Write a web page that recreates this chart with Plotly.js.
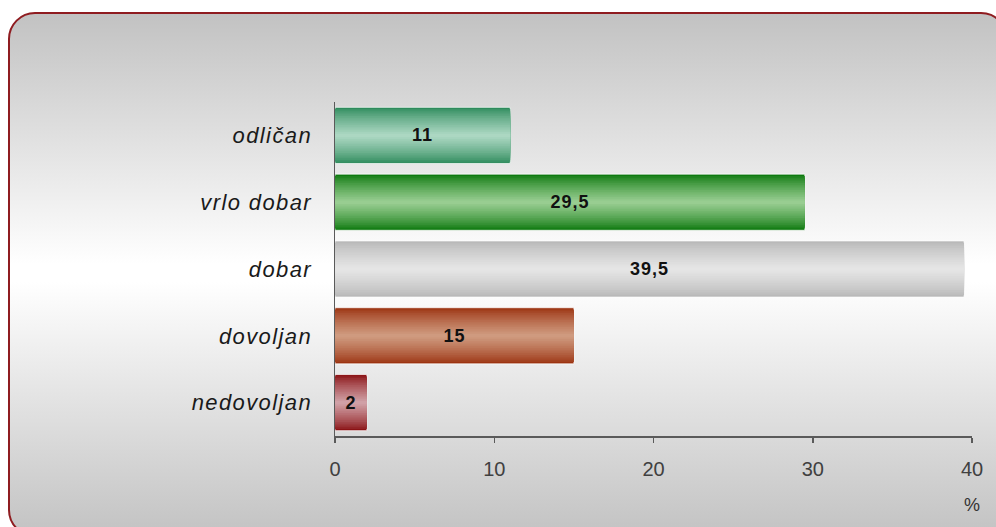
<!DOCTYPE html>
<html>
<head>
<meta charset="utf-8">
<script src="https://cdn.plot.ly/plotly-3.0.1.min.js"></script>
<style>
  html, body { margin: 0; padding: 0; overflow: hidden; background: #ffffff; }
  #bg {
    position: absolute; left: 8px; top: 12px; width: 1000px; height: 525px;
    box-sizing: border-box; border: 2px solid #8f1c20; border-radius: 27px;
    background: linear-gradient(to bottom, #c2c2c2 0px, #ffffff 250px, #ffffff 268px, #c4c4c4 515px);
  }
  #chart { position: absolute; left: 0; top: 0; width: 996px; height: 527px; }
  .ytick text { letter-spacing: 1.4px; }
  .bartext { letter-spacing: 1px; }
</style>
</head>
<body>
<div id="bg"></div>
<div id="chart"></div>
<script>
// ---- data ----
const categories = ['odličan', 'vrlo dobar', 'dobar', 'dovoljan', 'nedovoljan'];
const values = [11, 29.5, 39.5, 15, 2];
const valueLabels = ['11', '29,5', '39,5', '15', '2'];
const xTickVals = [0, 10, 20, 30, 40];
const xTickText = ['0', '10', '20', '30', '40'];

// ---- styles ----
const edgeColors = ['#2e8b5c', '#0e790f', '#b8b8b8', '#9c3412', '#8a1214'];
const centerColors = ['#acd7c2', '#98cd91', '#e5e5e5', '#cf9a7f', '#d0a0a6'];
const BAR_W = 0.84;
const LAYERS = 16;

function hexToRgb(h) {
  return [parseInt(h.slice(1, 3), 16), parseInt(h.slice(3, 5), 16), parseInt(h.slice(5, 7), 16)];
}
function mix(a, b, t) {
  const A = hexToRgb(a), B = hexToRgb(b);
  return 'rgb(' + A.map((v, i) => Math.round(v + (B[i] - v) * t)).join(',') + ')';
}

const traces = [];
for (let k = 0; k < LAYERS; k++) {
  const t = Math.pow(k / (LAYERS - 1), 0.8);
  traces.push({
    type: 'bar',
    orientation: 'h',
    y: categories,
    x: values,
    width: BAR_W * (1 - k / LAYERS),
    marker: {
      color: edgeColors.map((c, i) => mix(c, centerColors[i], t)),
      line: k === 0 ? { width: 1, color: 'rgba(255,255,255,0.7)' } : { width: 0 }
    },
    hoverinfo: 'skip',
    showlegend: false
  });
}
traces.push({
  type: 'bar',
  orientation: 'h',
  y: categories,
  x: values,
  width: BAR_W,
  marker: { color: 'rgba(0,0,0,0)', line: { width: 0 } },
  text: valueLabels,
  textposition: 'inside',
  insidetextanchor: 'middle',
  constraintext: 'none',
  textfont: { family: 'Liberation Sans, Arial, sans-serif', size: 18, weight: 'bold', color: '#111111' },
  hoverinfo: 'x+y',
  showlegend: false
});

const layout = {
  width: 996,
  height: 527,
  margin: { l: 335, r: 23.5, t: 102, b: 91 },
  paper_bgcolor: 'rgba(0,0,0,0)',
  plot_bgcolor: 'rgba(0,0,0,0)',
  barmode: 'overlay',
  showlegend: false,
  xaxis: {
    range: [0, 40],
    tickvals: xTickVals,
    ticktext: xTickText,
    ticks: 'outside',
    ticklen: 5,
    tickwidth: 1.5,
    tickcolor: '#5a5a5a',
    showline: true,
    linecolor: '#5a5a5a',
    linewidth: 2,
    showgrid: false,
    zeroline: false,
    ticklabelstandoff: 9,
    tickfont: { family: 'Liberation Sans, Arial, sans-serif', size: 20, color: '#404040' }
  },
  yaxis: {
    type: 'category',
    range: [4.5, -0.5],
    showline: true,
    linecolor: '#5a5a5a',
    linewidth: 1.5,
    ticks: '',
    showgrid: false,
    zeroline: false,
    ticklabelstandoff: 17,
    tickfont: { family: 'Liberation Sans, Arial, sans-serif', size: 22, style: 'italic', color: '#1a1a1a' }
  },
  annotations: [{
    text: '%',
    xref: 'x', yref: 'paper',
    x: 40, y: -0.207,
    showarrow: false,
    xanchor: 'center', yanchor: 'middle',
    font: { family: 'Liberation Sans, Arial, sans-serif', size: 18, color: '#333333' }
  }]
};

Plotly.newPlot('chart', traces, layout, { displayModeBar: false, staticPlot: true });
</script>
</body>
</html>
